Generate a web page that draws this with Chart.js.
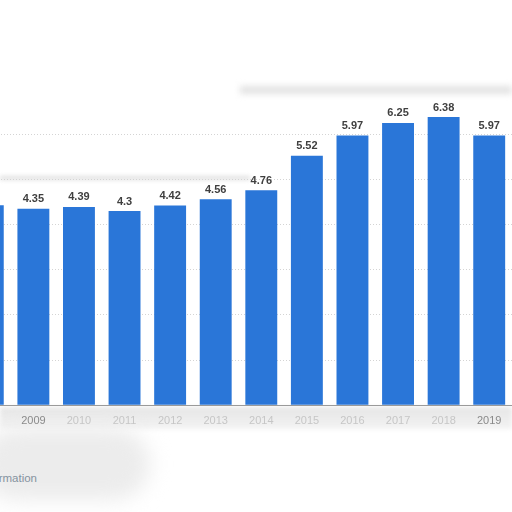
<!DOCTYPE html>
<html>
<head>
<meta charset="utf-8">
<script src="https://cdn.jsdelivr.net/npm/chart.js@4.4.0/dist/chart.umd.min.js"></script>
<style>
  html, body { margin: 0; padding: 0; background: #fff; width: 512px; height: 512px; overflow: hidden; position: relative; }
  #wrap { position: absolute; left: -35px; top: 60px; width: 547px; height: 380px; }
  .shade { position: absolute; pointer-events: none; }
  #foot { position: absolute; top: 472px; right: 475px; white-space: nowrap; font: 11.5px "Liberation Sans", Arial, sans-serif; color: #8593a0; }
</style>
</head>
<body>
<div class="shade" style="left:0;top:407px;width:512px;height:22px;background:linear-gradient(#e6e6e6,#f3f3f3);filter:blur(2px);"></div>
<div class="shade" style="left:-20px;top:428px;width:170px;height:72px;background:#ececec;border-radius:40px;filter:blur(10px);"></div>
<div class="shade" style="left:240px;top:86px;width:272px;height:8px;background:#e2e2e2;filter:blur(3px);"></div>
<div class="shade" style="left:0;top:176px;width:250px;height:4px;background:#e0e0e0;filter:blur(2px);"></div>
<div id="foot">Additional Information</div>
<div id="wrap"><canvas id="c"></canvas></div>
<script>
const years = ['2008','2009','2010','2011','2012','2013','2014','2015','2016','2017','2018','2019'];
const values = [4.43, 4.35, 4.39, 4.3, 4.42, 4.56, 4.76, 5.52, 5.97, 6.25, 6.38, 5.97];
const valueLabels = ['4.43','4.35','4.39','4.3','4.42','4.56','4.76','5.52','5.97','6.25','6.38','5.97'];
const yTicks = [0, 1, 2, 3, 4, 5, 6];

const labelPlugin = {
  id: 'valueLabels',
  afterDatasetsDraw(chart) {
    const ctx = chart.ctx;
    const meta = chart.getDatasetMeta(0);
    ctx.save();
    ctx.font = 'bold 11px "Liberation Sans", Arial, sans-serif';
    ctx.fillStyle = '#3f3f3f';
    ctx.textAlign = 'center';
    ctx.textBaseline = 'bottom';
    meta.data.forEach((bar, i) => {
      ctx.fillText(valueLabels[i], bar.x, bar.y - 4);
    });
    ctx.restore();
  }
};

new Chart(document.getElementById('c'), {
  type: 'bar',
  data: {
    labels: years,
    datasets: [{
      data: values,
      backgroundColor: '#2a76d8',
      borderWidth: 0,
      categoryPercentage: 1.0,
      barPercentage: 0.70
    }]
  },
  options: {
    responsive: true,
    maintainAspectRatio: false,
    animation: false,
    layout: { padding: { top: 29, bottom: 3.5, left: 0, right: 0 } },
    plugins: { legend: { display: false }, tooltip: { enabled: false } },
    scales: {
      x: {
        offset: true,
        grid: { display: false, drawTicks: false },
        border: { display: true, color: '#9a9a9a', width: 1 },
        ticks: {
          padding: 9,
          maxRotation: 0,
          autoSkip: false,
          font: { family: '"Liberation Sans", Arial, sans-serif', size: 11 },
          color: (c) => (c.index === 1 || c.index === 11) ? '#8a8a8a' : '#c6c6c6'
        }
      },
      y: {
        min: 0,
        max: 7,
        afterBuildTicks: (scale) => { scale.ticks = yTicks.map(v => ({ value: v })); },
        ticks: { display: false },
        border: { display: false, dash: [1, 2] },
        grid: { color: '#d4d4d4', drawTicks: false, lineWidth: 1 }
      }
    }
  },
  plugins: [labelPlugin]
});
</script>
</body>
</html>
